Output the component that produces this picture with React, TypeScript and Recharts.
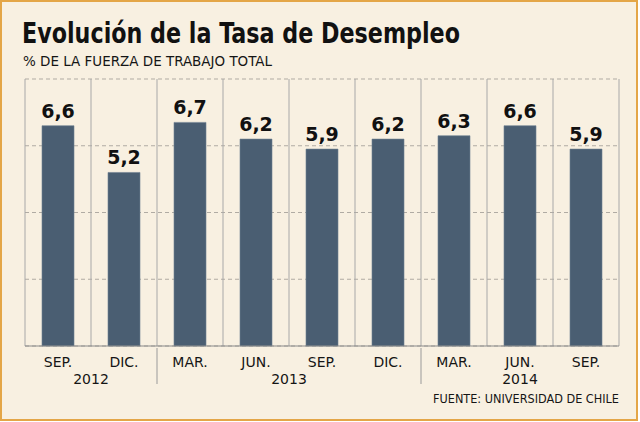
import { Bar, BarChart, CartesianGrid, LabelList, XAxis, YAxis } from "recharts";

const months = ["SEP.", "DIC.", "MAR.", "JUN.", "SEP.", "DIC.", "MAR.", "JUN.", "SEP."];
const rates = [6.6, 5.2, 6.7, 6.2, 5.9, 6.2, 6.3, 6.6, 5.9];
const yearGroups = [
  { year: "2012", from: 0, to: 1 },
  { year: "2013", from: 2, to: 5 },
  { year: "2014", from: 6, to: 8 }
];
const yTicks = [0, 2, 4, 6, 8];

const data = months.map((m, i) => ({ month: m, rate: rates[i] }));

const W = 640;
const H = 422;
const margin = { top: 79, right: 21, bottom: 36, left: 25 };
const band = (W - margin.left - margin.right) / months.length;
const font = "'DejaVu Sans', Verdana, sans-serif";
const narrow = "'DejaVu Sans Condensed', 'DejaVu Sans', sans-serif";

function MonthTick(props: any) {
  const { x, y, index, payload } = props;
  const group = yearGroups.find((g) => Math.floor((g.from + g.to) / 2) === index);
  const startsGroup = yearGroups.some((g) => g.from === index && index > 0);
  const shift = group ? ((group.from + group.to) / 2 - index) * band : 0;
  return (
    <g>
      {startsGroup && (
        <line x1={x - band / 2} x2={x - band / 2} y1={y} y2={y + 36} stroke="#9a9a9a" strokeWidth={1} />
      )}
      <text x={x} y={y + 19} textAnchor="middle" fontFamily={font} fontSize={14} fill="#151515">
        {payload.value}
      </text>
      {group && (
        <text x={x + shift} y={y + 36} textAnchor="middle" fontFamily={font} fontSize={14} fill="#151515">
          {group.year}
        </text>
      )}
    </g>
  );
}

export default function App() {
  return (
    <div style={{ position: "fixed", left: 0, top: 0, width: W, height: H, background: "#ffffff" }}>
      <div
        style={{
          position: "absolute",
          left: 0,
          top: 0,
          width: 638,
          height: 421,
          boxSizing: "border-box",
          border: "2px solid #e4a647",
          background: "#f8f0e1"
        }}
      />
      <div style={{ position: "absolute", left: 0, top: 0 }}>
        <BarChart width={W} height={H} data={data} margin={margin} barCategoryGap={0}>
          <CartesianGrid vertical={false} stroke="#b0aba3" strokeDasharray="4 3" />
          <CartesianGrid
            horizontal={false}
            stroke="#a8a8a8"
            verticalCoordinatesGenerator={({ offset }: any) =>
              Array.from({ length: months.length + 1 }, (_, i) => offset.left + (i * offset.width) / months.length)
            }
          />
          <YAxis hide domain={[0, 8]} ticks={yTicks} />
          <XAxis
            dataKey="month"
            height={40}
            interval={0}
            tickLine={false}
            tickSize={0}
            stroke="#8a8a8a"
            tick={<MonthTick />}
          />
          <Bar dataKey="rate" fill="#4a5e72" stroke="#6d8092" strokeWidth={0.6} barSize={32} isAnimationActive={false}>
            <LabelList
              dataKey="rate"
              position="top"
              offset={8}
              formatter={(v: any) => String(v).replace(".", ",")}
              style={{ fontFamily: font, fontSize: 19, fontWeight: "bold", fill: "#111" }}
            />
          </Bar>
        </BarChart>
      </div>
      <svg width={W} height={H} style={{ position: "absolute", left: 0, top: 0, pointerEvents: "none" }}>
        <text x={22} y={43} fontFamily={narrow} fontWeight="bold" fontSize={28} fill="#111" textLength={438} lengthAdjust="spacingAndGlyphs">
          Evolución de la Tasa de Desempleo
        </text>
        <text x={23} y={66} fontFamily={narrow} fontSize={14} fill="#151515" textLength={249} lengthAdjust="spacingAndGlyphs">
          % DE LA FUERZA DE TRABAJO TOTAL
        </text>
        <text x={433} y={403} fontFamily={narrow} fontSize={13} fill="#151515" textLength={186} lengthAdjust="spacingAndGlyphs">
          FUENTE: UNIVERSIDAD DE CHILE
        </text>
      </svg>
    </div>
  );
}
